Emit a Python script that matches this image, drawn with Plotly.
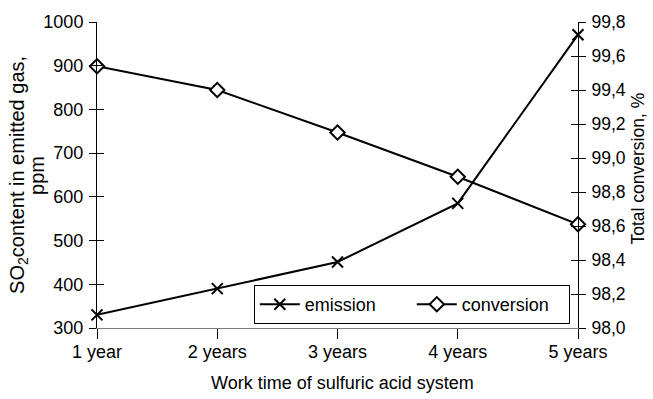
import plotly.graph_objects as go

categories = ["1 year", "2 years", "3 years", "4 years", "5 years"]
positions = [1, 2, 3, 4, 5]
emission = [330, 390, 451, 585, 971]
conversion = [99.54, 99.40, 99.15, 98.89, 98.61]

x_title = "Work time of sulfuric acid system"
y_title_line1 = "SO<sub>2</sub>content in emitted gas,"
y_title_line2 = "ppm"
y2_title = "Total conversion, %"

FONT = "Liberation Sans, Arial, sans-serif"
TICK = dict(family=FONT, size=18, color="black")
RTICK = dict(family=FONT, size=17.5, color="black")
XTITLE = dict(family=FONT, size=18, color="black")
RTITLE = dict(family=FONT, size=17.5, color="black")
YTITLE = dict(family=FONT, size=20, color="black")

fig = go.Figure()
fig.add_trace(go.Scatter(
    x=positions, y=emission, name="emission", mode="lines+markers",
    line=dict(color="black", width=2),
    marker=dict(symbol="x-thin", size=11, line=dict(color="black", width=2)),
    cliponaxis=False, yaxis="y"))
fig.add_trace(go.Scatter(
    x=positions, y=conversion, name="conversion", mode="lines+markers",
    line=dict(color="black", width=2),
    marker=dict(symbol="diamond", size=11, color="white", line=dict(color="black", width=2)),
    cliponaxis=False, yaxis="y2"))
# empty traces to host inside-tick overlay axes
fig.add_trace(go.Scatter(x=[], y=[], yaxis="y3", showlegend=False, hoverinfo="skip"))
fig.add_trace(go.Scatter(x=[], y=[], yaxis="y4", showlegend=False, hoverinfo="skip"))

fig.update_layout(
    width=653, height=399,
    margin=dict(l=97, r=75, t=22, b=71, autoexpand=False),
    paper_bgcolor="white", plot_bgcolor="white",
    font=dict(family=FONT, size=18, color="black"),
    separators=",.",
    showlegend=True,
    legend=dict(orientation="h", x=0.326, y=0.013, xanchor="left", yanchor="bottom",
                bordercolor="black", borderwidth=1, bgcolor="white",
                font=TICK, itemwidth=40, tracegroupgap=0, entrywidth=102),
    xaxis=dict(range=[1, 5], tickvals=positions, ticktext=categories, tickfont=TICK,
               automargin=False,
               showgrid=False, zeroline=False, showline=True, linecolor="#808080", linewidth=1,
               ticks="outside", ticklen=10, tickcolor="black", ticklabelstandoff=-3),
    yaxis=dict(range=[300, 1000], dtick=100, showgrid=False, zeroline=False, tickfont=TICK,
               automargin=False,
               showline=True, linecolor="black", linewidth=1,
               ticks="outside", ticklen=7, tickcolor="black", ticklabelstandoff=2),
    yaxis2=dict(range=[98, 99.8], dtick=0.2, tickformat=".1f", overlaying="y", side="right",
                tickfont=RTICK, ticklabelstandoff=2, automargin=False,
                showgrid=False, zeroline=False, showline=True, linecolor="black", linewidth=1,
                ticks="outside", ticklen=7, tickcolor="black"),
    yaxis3=dict(range=[300, 1000], dtick=100, overlaying="y", side="left", automargin=False,
                showgrid=False, zeroline=False, showline=False,
                ticks="inside", ticklen=7, tickcolor="black", showticklabels=False),
    yaxis4=dict(range=[98, 99.8], dtick=0.2, overlaying="y", side="right", automargin=False,
                showgrid=False, zeroline=False, showline=False,
                ticks="inside", ticklen=7, tickcolor="black", showticklabels=False),
    annotations=[
        dict(text=x_title, xref="paper", yref="paper", x=0.511, y=-0.18,
             xanchor="center", yanchor="middle", showarrow=False, font=XTITLE),
        dict(text=y_title_line1, xref="paper", yref="paper", x=-0.1645, y=0.5,
             xanchor="center", yanchor="middle", textangle=-90, showarrow=False, font=YTITLE),
        dict(text=y_title_line2, xref="paper", yref="paper", x=-0.125, y=0.5,
             xanchor="center", yanchor="middle", textangle=-90, showarrow=False, font=YTITLE),
        dict(text=y2_title, xref="paper", yref="paper", x=1.124, y=0.52,
             xanchor="center", yanchor="middle", textangle=-90, showarrow=False, font=RTITLE),
    ],
)

fig.write_html("out.html", config={"displayModeBar": False},
               post_script="document.body.style.margin='0';document.body.style.overflow='hidden';")
